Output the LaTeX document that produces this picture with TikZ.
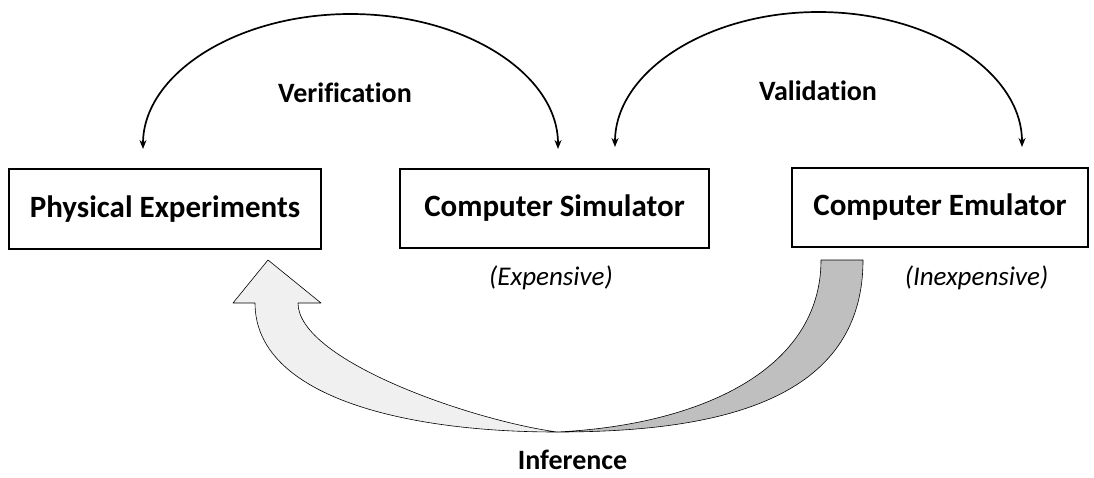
\documentclass[tikz,border=0pt]{standalone}
\usepackage{fontspec}
\setmainfont{Carlito}[Ligatures=NoCommon]
\usetikzlibrary{arrows.meta}
\begin{document}
\begin{tikzpicture}[x=1pt,y=-1pt,
  box/.style={draw, line width=2.6pt, inner sep=0pt, font=\fontsize{31}{36}\selectfont\bfseries, text height=22pt, text depth=6pt},
  lbl/.style={font=\fontsize{28}{32}\selectfont\bfseries, anchor=base, inner sep=0pt},
  note/.style={font=\fontsize{27}{32}\selectfont\itshape, anchor=base, inner sep=0pt},
  loop/.style={line width=1.7pt, {Stealth[length=9pt,width=7pt]}-{Stealth[length=9pt,width=7pt]}},
  ribbon/.style={draw, line width=0.6pt, line join=round},
]
\useasboundingbox (0,0) rectangle (1094,477);

% boxes
\node[box, minimum width=312pt, minimum height=80pt] (phys) at (165,209) {Physical Experiments};
\node[box, minimum width=309pt, minimum height=79pt] (sim) at (554.5,208.5) {Computer Simulator};
\node[box, minimum width=296pt, minimum height=79pt] (emu) at (940,207.5) {Computer Emulator};

% labels
\node[lbl] (ver) at (345,102) {Verification};
\node[lbl] (val) at (818,100) {Validation};
\node[note] (exp) at (551,285) {(Expensive)};
\node[note] (inexp) at (976.5,285) {(Inexpensive)};
\node[lbl] (inf) at (572.5,469) {Inference};

% verification loop
\coordinate (v1) at (143,149);
\coordinate (vt) at (350.5,14);
\coordinate (v2) at (558,149);
\draw[loop] (v1) .. controls (143,74.4) and (235.9,14) .. (vt)
                 .. controls (465.1,14) and (558,74.4) .. (v2);

% validation loop
\coordinate (w1) at (615,147);
\coordinate (wt) at (818.5,12);
\coordinate (w2) at (1022,147);
\draw[loop] (w1) .. controls (615,72.4) and (706.1,12) .. (wt)
                 .. controls (930.9,12) and (1022,72.4) .. (w2);

% inference ribbon arrow
\coordinate (g1) at (821,260);
\coordinate (g2) at (863,260);
\coordinate (bot) at (557,432);
\coordinate (tip) at (268,260);
\filldraw[ribbon, fill=black!25] (g1) -- (g2) .. controls (863,400) and (720,432) .. (bot)
   .. controls (700,425) and (821,370) .. (g1) -- cycle;
\filldraw[ribbon, fill=black!6] (bot) .. controls (400,432) and (255,395) .. (255,303)
   -- (233,303) -- (tip) -- (321,303) -- (298,303)
   .. controls (298,360) and (470,420) .. (bot) -- cycle;
\end{tikzpicture}
\end{document}
